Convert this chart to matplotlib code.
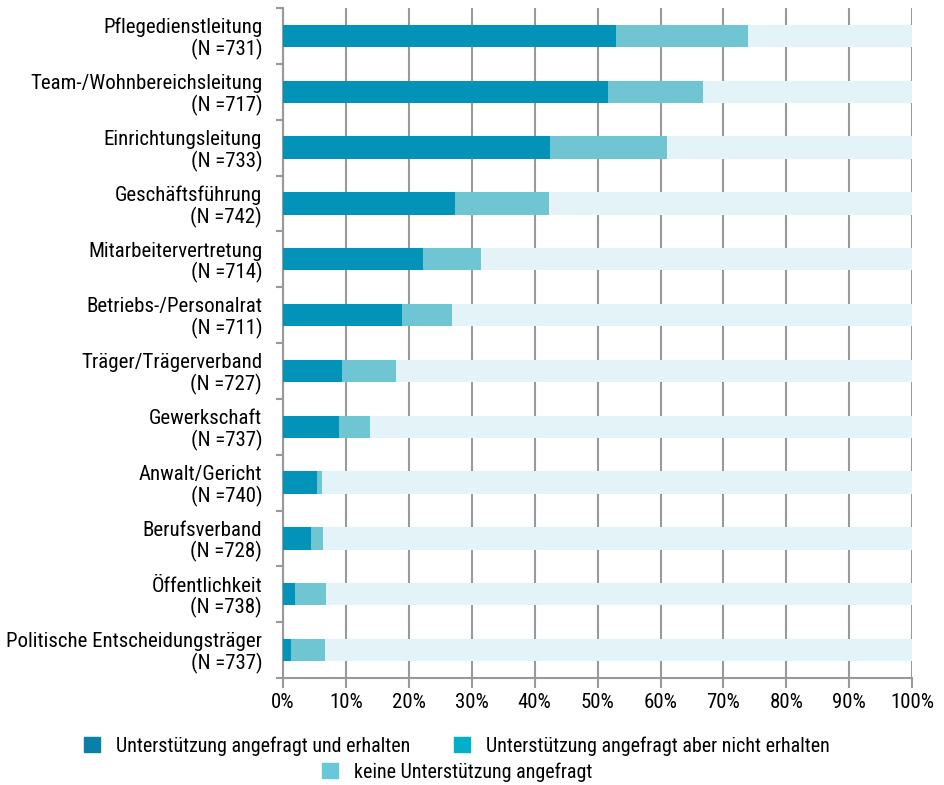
import matplotlib.pyplot as plt
from matplotlib.patches import Patch
from matplotlib.ticker import MultipleLocator, FixedLocator, PercentFormatter

plt.rcParams['font.family'] = ['Roboto Condensed', 'DejaVu Sans']

labels = ['Pflegedienstleitung\n(N =731)', 'Team-/Wohnbereichsleitung\n(N =717)',
          'Einrichtungsleitung\n(N =733)', 'Geschäftsführung\n(N =742)',
          'Mitarbeitervertretung\n(N =714)', 'Betriebs-/Personalrat\n(N =711)',
          'Träger/Trägerverband\n(N =727)', 'Gewerkschaft\n(N =737)',
          'Anwalt/Gericht\n(N =740)', 'Berufsverband\n(N =728)',
          'Öffentlichkeit\n(N =738)', 'Politische Entscheidungsträger\n(N =737)']
erhalten = [52.9, 51.7, 42.4, 27.3, 22.3, 18.9, 9.4, 8.9, 5.4, 4.5, 1.9, 1.3]
nicht_erhalten = [21.0, 15.1, 18.6, 15.0, 9.2, 8.0, 8.6, 4.9, 0.8, 1.8, 4.9, 5.4]
keine = [100 - a - b for a, b in zip(erhalten, nicht_erhalten)]

bar_colors = ['#0393b9', '#6fc5d1', '#e3f3f7']
legend_colors = ['#0a7fa8', '#00afc8', '#66c8da']
legend_labels = ['Unterstützung angefragt und erhalten',
                 'Unterstützung angefragt aber nicht erhalten',
                 'keine Unterstützung angefragt']

fig = plt.figure(figsize=(9.44, 7.85), dpi=100)
ax = fig.add_axes([0.2998, 0.1363, 0.6665, 0.8535])

y = list(range(len(labels)))
left = [0] * len(labels)
for vals, c in zip([erhalten, nicht_erhalten, keine], bar_colors):
    ax.barh(y, vals, left=left, height=0.4, color=c, zorder=3)
    left = [l + v for l, v in zip(left, vals)]

ax.set_xlim(0, 100)
ax.set_ylim(11.5, -0.5)
ax.xaxis.set_major_locator(MultipleLocator(10))
ax.xaxis.set_major_formatter(PercentFormatter(decimals=0))
ax.grid(axis='x', color='#999999', linewidth=1.5, zorder=0)

ax.set_yticks(y)
ax.set_yticklabels(labels, fontsize=15, linespacing=1.1, ha='right')
ax.tick_params(axis='y', length=0, pad=15)
ax.yaxis.set_minor_locator(FixedLocator([i + 0.5 for i in range(-1, 12)]))
ax.tick_params(axis='y', which='minor', length=5, width=1.5, color='#999999')
ax.tick_params(axis='x', labelsize=15, length=7, width=1.5, color='#999999', pad=4)

for s in ['top', 'right']:
    ax.spines[s].set_visible(False)
for s in ['left', 'bottom']:
    ax.spines[s].set_color('#999999')
    ax.spines[s].set_linewidth(1.5)

h = [Patch(color=c) for c in legend_colors]
leg1 = fig.legend(h[:2], legend_labels[:2], loc='center', ncol=2,
                  bbox_to_anchor=(0.484, 1 - 746 / 785), frameon=False,
                  fontsize=14.4, handlelength=0.8, handleheight=0.8,
                  handletextpad=0.8, columnspacing=2.2)
leg2 = fig.legend(h[2:], legend_labels[2:], loc='center',
                  bbox_to_anchor=(0.484, 1 - 772 / 785), frameon=False,
                  fontsize=14.4, handlelength=0.8, handleheight=0.8,
                  handletextpad=0.8)

fig.savefig('out.png', dpi=100)
